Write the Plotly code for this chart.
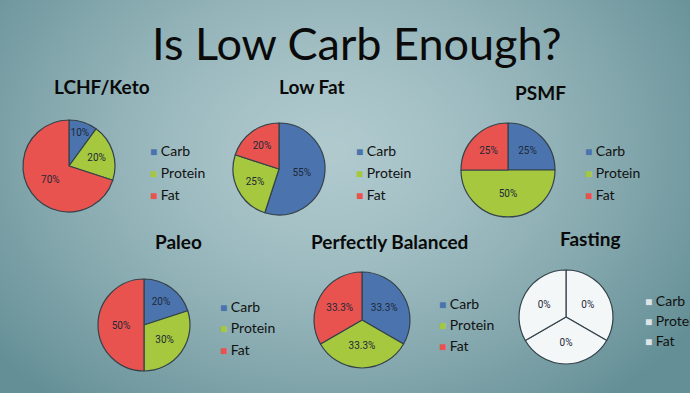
import base64, struct, zlib
import numpy as np
import plotly.graph_objects as go

W, H = 690, 393

# ---------------- data ----------------
title = "Is Low Carb Enough?"
categories = ["Carb", "Protein", "Fat"]
diet_names = ["LCHF/Keto", "Low Fat", "PSMF", "Paleo", "Perfectly Balanced", "Fasting"]
keto_pct = [10, 20, 70]
lowfat_pct = [55, 25, 20]
psmf_pct = [25, 50, 25]
paleo_pct = [20, 30, 50]
balanced_pct = [33.3, 33.3, 33.3]
fasting_pct = [0, 0, 0]
fasting_slice_weights = [1, 1, 1]  # drawn as equal thirds in the reference

colors = ["#4b74ae", "#a5c83e", "#e9534f"]
white = ["#f4f7f8", "#f4f7f8", "#f4f7f8"]
legend_white = ["#dfe5e7", "#dfe5e7", "#dfe5e7"]

# ---------------- background gradient image ----------------
def make_png(arr):
    h, w, _ = arr.shape
    raw = b"".join(b"\x00" + arr[i].tobytes() for i in range(h))
    def chunk(t, d):
        c = struct.pack(">I", len(d)) + t + d
        return c + struct.pack(">I", zlib.crc32(t + d) & 0xffffffff)
    ihdr = struct.pack(">IIBBBBB", w, h, 8, 2, 0, 0, 0)
    return b"\x89PNG\r\n\x1a\n" + chunk(b"IHDR", ihdr) + chunk(b"IDAT", zlib.compress(raw, 9)) + chunk(b"IEND", b"")

yy, xx = np.mgrid[0:H, 0:W].astype(float)
d = np.sqrt(((xx - 330) / 430) ** 2 + ((yy - 150) / 330) ** 2)
t = np.clip(d, 0, 1) ** 1.4
c0 = np.array([176, 202, 206], float)
c1 = np.array([100, 143, 150], float)
img = (c0[None, None, :] + (c1 - c0)[None, None, :] * t[..., None]).astype(np.uint8)
bg_src = "data:image/png;base64," + base64.b64encode(make_png(img)).decode()

# ---------------- layout helpers ----------------
def dom(cx, cy, r):
    return dict(x=[(cx - r) / W, (cx + r) / W], y=[1 - (cy + r) / H, 1 - (cy - r) / H])

# name, slice values, label values, slice colours, legend colours, pie (cx, cy, r),
# legend (x, first-row y, row step), title (x, y)
pies = [
    (diet_names[0], keto_pct, keto_pct, colors, colors, (69, 166, 46), (148, 151, 21.5), (102, 86)),
    (diet_names[1], lowfat_pct, lowfat_pct, colors, colors, (279, 169, 46), (354, 151, 21.5), (312, 86)),
    (diet_names[2], psmf_pct, psmf_pct, colors, colors, (508, 170, 47), (583, 151, 21.5), (540, 92)),
    (diet_names[3], paleo_pct, paleo_pct, colors, colors, (144, 325, 46), (218, 306, 21.5), (178, 241)),
    (diet_names[4], balanced_pct, balanced_pct, colors, colors, (362, 320, 48), (437, 303, 21), (389, 242)),
    (diet_names[5], fasting_slice_weights, fasting_pct, white, legend_white, (566, 317, 47), (643, 300, 20), (590, 238)),
]

fig = go.Figure()
annotations = [dict(text=title, x=357 / W, y=1 - 43 / H, xref="paper", yref="paper",
                    xanchor="center", yanchor="middle",
                    showarrow=False, font=dict(family="Lato", size=45, color="#0a0a0a"))]

for name, vals, labels_pct, cols, lcols, (cx, cy, r), (lx, ly, step), (tx, ty) in pies:
    text = [("%g%%" % v) for v in labels_pct]
    fig.add_trace(go.Pie(
        labels=categories, values=vals, text=text, textinfo="text",
        texttemplate="%{text}", textposition="inside", insidetextorientation="horizontal",
        sort=False, direction="clockwise", rotation=0,
        marker=dict(colors=cols, line=dict(color="#34424a", width=1.2)),
        textfont=dict(family="Liberation Sans Narrow, Roboto", size=10, color="#1d2838"),
        domain=dom(cx, cy, r), name=name, hoverinfo="label+text", showlegend=False,
    ))
    annotations.append(dict(text="<b>%s</b>" % name, x=tx / W, y=1 - ty / H, xref="paper", yref="paper",
                            xanchor="center", yanchor="middle",
                            showarrow=False, font=dict(family="Lato", size=19, color="#0a0a0a")))
    for i, cat in enumerate(categories):
        annotations.append(dict(
            text="<span style='color:%s;font-size:12px'>■</span> %s" % (lcols[i], cat),
            x=lx / W, y=1 - (ly + i * step) / H, xref="paper", yref="paper",
            xanchor="left", yanchor="middle", showarrow=False,
            font=dict(family="Lato", size=14, color="#111"),
        ))

fig.update_layout(
    width=W, height=H, margin=dict(l=0, r=0, t=0, b=0),
    paper_bgcolor="#7fa3a9", plot_bgcolor="rgba(0,0,0,0)",
    showlegend=False, annotations=annotations,
    images=[dict(source=bg_src, xref="paper", yref="paper", x=0, y=1, sizex=1, sizey=1,
                 xanchor="left", yanchor="top", sizing="stretch", layer="below")],
)
fig.write_html("out.html", config={"displayModeBar": False},
               post_script="document.body.style.margin='0';")
